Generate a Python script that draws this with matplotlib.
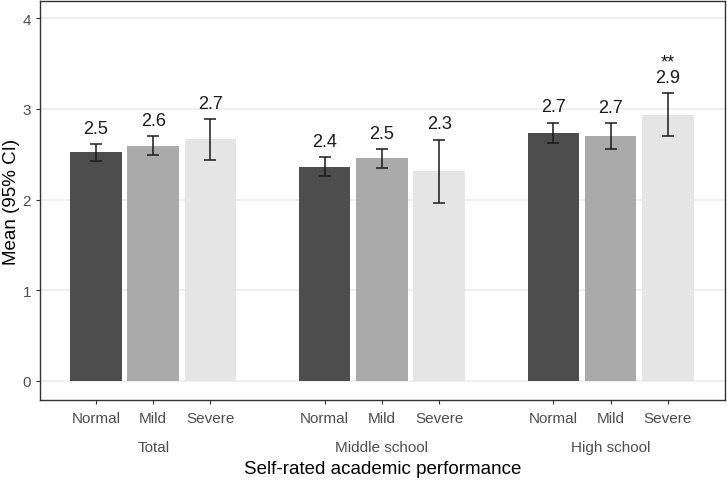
import numpy as np
import matplotlib.pyplot as plt
import matplotlib.transforms as mtransforms

plt.rcParams['font.family'] = ['Liberation Sans', 'DejaVu Sans']

groups = ["Total", "Middle school", "High school"]
levels = ["Normal", "Mild", "Severe"]
means = [2.53, 2.59, 2.67, 2.36, 2.46, 2.31, 2.73, 2.70, 2.93]
ci_low = [2.43, 2.49, 2.44, 2.26, 2.35, 1.96, 2.62, 2.56, 2.70]
ci_high = [2.61, 2.70, 2.89, 2.47, 2.56, 2.66, 2.85, 2.84, 3.17]
stars = ["", "", "", "", "", "", "", "", "**"]
colors = ["#4D4D4D", "#AAAAAA", "#E5E5E5"]

x = np.array([g * 4 + i for g in range(3) for i in range(3)], dtype=float)
means = np.array(means)
lo = means - np.array(ci_low)
hi = np.array(ci_high) - means

fig = plt.figure(figsize=(7.27, 4.81), dpi=100)
ax = fig.add_axes([40 / 727, 80 / 481, 685 / 727, 399 / 481])

ax.bar(x, means, width=0.9, color=colors * 3, zorder=2)
ax.errorbar(x, means, yerr=[lo, hi], fmt='none', ecolor='#1a1a1a',
            elinewidth=1.1, capsize=4.5, capthick=1.1, zorder=3)

for xi, m, h, s in zip(x, means, ci_high, stars):
    ax.text(xi, h + 0.08, f"{m:.1f}", ha='center', va='bottom',
            fontsize=13, color='#1a1a1a', zorder=4)
    if s:
        ax.text(xi, h + 0.25, s, ha='center', va='bottom',
                fontsize=13, color='#1a1a1a', zorder=4)

ax.set_xlim(-0.98, 11.0)
ax.set_ylim(-0.21, 4.19)
ax.set_yticks([0, 1, 2, 3, 4])
ax.set_xticks(x)
ax.set_xticklabels(levels * 3)
ax.tick_params(axis='both', colors='#333333', labelcolor='#4D4D4D',
               labelsize=11, length=3)
ax.tick_params(axis='x', pad=5)
ax.grid(axis='y', color='#EBEBEB', linewidth=1.1, zorder=0)
ax.set_axisbelow(True)
for sp in ax.spines.values():
    sp.set_color('#333333')
    sp.set_linewidth(1.0)

trans = mtransforms.blended_transform_factory(ax.transData, fig.transFigure)
for g, name in enumerate(groups):
    ax.text(g * 4 + 1, 1 - 448 / 481, name, transform=trans, ha='center',
            va='center', fontsize=11, color='#4D4D4D')

fig.text(0.5 * (40 + 725) / 727, 1 - 470 / 481, "Self-rated academic performance",
         ha='center', va='center', fontsize=13.5, color='black')
ax.set_ylabel("Mean (95% CI)", fontsize=13.5, color='black', labelpad=2)

fig.savefig("out.png", dpi=100)
